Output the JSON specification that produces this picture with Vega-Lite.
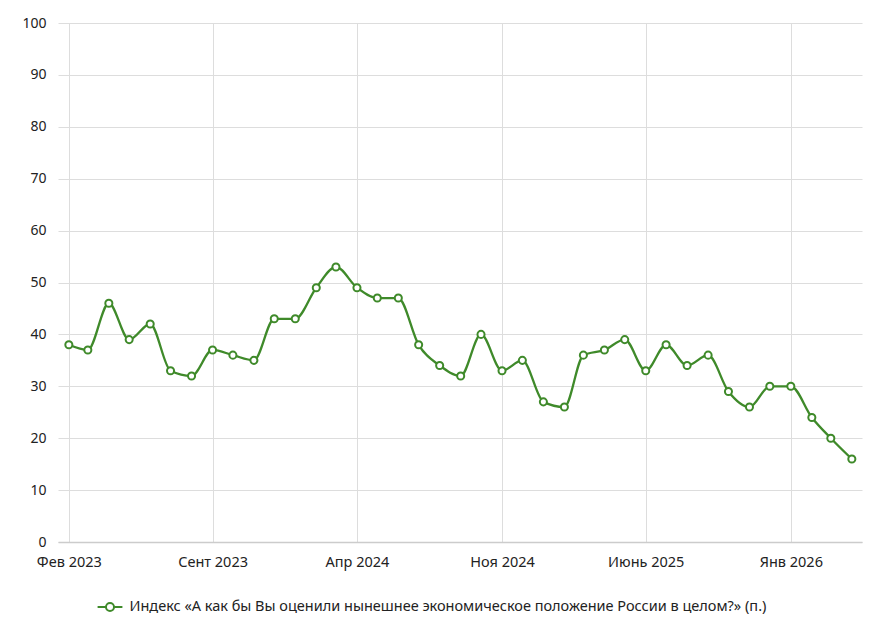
{
  "$schema": "https://vega.github.io/schema/vega-lite/v6.json",
  "width": 804,
  "height": 519,
  "autosize": {"type": "none"},
  "padding": {"left": 58, "top": 23, "right": 11, "bottom": 89},
  "background": "white",
  "config": {
    "view": {"stroke": null},
    "font": "Noto Sans",
    "axis": {"labelFont": "Noto Sans", "labelColor": "#222", "labelFontSize": 14.5, "gridColor": "#dddddd", "gridWidth": 1, "ticks": false, "title": null}
  },
  "data": {
    "values": [
      {"month": "2023-02-01", "value": 38},
      {"month": "2023-03-01", "value": 37},
      {"month": "2023-04-01", "value": 46},
      {"month": "2023-05-01", "value": 39},
      {"month": "2023-06-01", "value": 42},
      {"month": "2023-07-01", "value": 33},
      {"month": "2023-08-01", "value": 32},
      {"month": "2023-09-01", "value": 37},
      {"month": "2023-10-01", "value": 36},
      {"month": "2023-11-01", "value": 35},
      {"month": "2023-12-01", "value": 43},
      {"month": "2024-01-01", "value": 43},
      {"month": "2024-02-01", "value": 49},
      {"month": "2024-03-01", "value": 53},
      {"month": "2024-04-01", "value": 49},
      {"month": "2024-05-01", "value": 47},
      {"month": "2024-06-01", "value": 47},
      {"month": "2024-07-01", "value": 38},
      {"month": "2024-08-01", "value": 34},
      {"month": "2024-09-01", "value": 32},
      {"month": "2024-10-01", "value": 40},
      {"month": "2024-11-01", "value": 33},
      {"month": "2024-12-01", "value": 35},
      {"month": "2025-01-01", "value": 27},
      {"month": "2025-02-01", "value": 26},
      {"month": "2025-03-01", "value": 36},
      {"month": "2025-04-01", "value": 37},
      {"month": "2025-05-01", "value": 39},
      {"month": "2025-06-01", "value": 33},
      {"month": "2025-07-01", "value": 38},
      {"month": "2025-08-01", "value": 34},
      {"month": "2025-09-01", "value": 36},
      {"month": "2025-10-01", "value": 29},
      {"month": "2025-11-01", "value": 26},
      {"month": "2025-12-01", "value": 30},
      {"month": "2026-01-01", "value": 30},
      {"month": "2026-02-01", "value": 24},
      {"month": "2026-03-01", "value": 20},
      {"month": "2026-04-01", "value": 16}
    ]
  },
  "transform": [
    {"calculate": "'Индекс «А как бы Вы оценили нынешнее экономическое положение России в целом?» (п.)'", "as": "series"}
  ],
  "encoding": {
    "x": {
      "field": "month",
      "type": "temporal",
      "scale": {
        "type": "utc",
        "domain": [
          {"year": 2023, "month": 1, "date": 16, "utc": true},
          {"year": 2026, "month": 4, "date": 16, "utc": true}
        ]
      },
      "axis": {
        "values": [
          {"year": 2023, "month": 2, "date": 1, "utc": true},
          {"year": 2023, "month": 9, "date": 1, "utc": true},
          {"year": 2024, "month": 4, "date": 1, "utc": true},
          {"year": 2024, "month": 11, "date": 1, "utc": true},
          {"year": 2025, "month": 6, "date": 1, "utc": true},
          {"year": 2026, "month": 1, "date": 1, "utc": true}
        ],
        "labelExpr": "['Янв','Фев','Март','Апр','Май','Июнь','Июль','Авг','Сент','Окт','Ноя','Дек'][utcmonth(datum.value)] + ' ' + utcyear(datum.value)",
        "labelPadding": 13,
        "domain": true,
        "domainColor": "#cccccc",
        "domainWidth": 1.5,
        "grid": true
      }
    },
    "y": {
      "field": "value",
      "type": "quantitative",
      "scale": {"domain": [0, 100], "nice": false},
      "axis": {"values": [0, 10, 20, 30, 40, 50, 60, 70, 80, 90, 100], "domain": false, "labelPadding": 12, "labelFontSize": 14, "grid": true}
    },
    "color": {
      "field": "series",
      "type": "nominal",
      "scale": {"range": ["#3f8a2a"]},
      "legend": {
        "title": null,
        "orient": "none",
        "legendX": 44,
        "legendY": 576,
        "symbolType": "M-1.85,0H-0.6 M0.6,0H1.85 M0.6,0A0.6,0.6 0 1,1 -0.6,0A0.6,0.6 0 1,1 0.6,0",
        "symbolSize": 180,
        "symbolStrokeWidth": 2,
        "symbolFillColor": "white",
        "symbolStrokeColor": "#3f8a2a",
        "labelFont": "Noto Sans",
        "labelFontSize": 14.5,
        "labelColor": "#222",
        "labelLimit": 800,
        "labelOffset": 11.5
      }
    }
  },
  "layer": [
    {"mark": {"type": "line", "interpolate": "monotone", "strokeWidth": 2.3}},
    {"mark": {"type": "point", "shape": "circle", "size": 50, "filled": false, "fill": "white", "fillOpacity": 1, "strokeWidth": 2, "opacity": 1}}
  ]
}
